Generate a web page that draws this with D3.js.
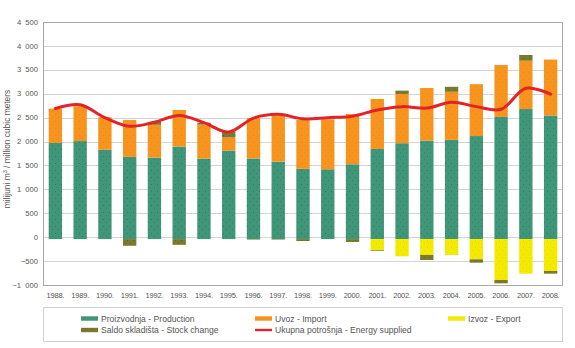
<!DOCTYPE html>
<html>
<head>
<meta charset="utf-8">
<script src="https://cdn.jsdelivr.net/npm/d3@7"></script>
<style>
  body { margin: 0; background: #fff; }
  svg text { font-family: "Liberation Sans", Arial, sans-serif; fill: #555; }
</style>
</head>
<body>
<svg id="chart"></svg>
<script>
// values, milijuni m3
var years = ['1988.', '1989.', '1990.', '1991.', '1992.', '1993.', '1994.', '1995.', '1996.', '1997.', '1998.',
             '1999.', '2000.', '2001.', '2002.', '2003.', '2004.', '2005.', '2006.', '2007.', '2008.']
var production = [1970, 2010, 1830, 1680, 1665, 1895, 1645, 1810, 1645, 1580, 1430, 1420, 1525, 1845, 1965, 2020, 2035, 2115, 2515, 2680, 2545]
var imports = [720, 730, 680, 770, 685, 765, 710, 275, 845, 965, 1020, 1045, 1050, 1045, 1030, 1100, 1005, 1085, 1085, 1010, 1170]
var exports = [0, 0, 0, 0, 0, 0, 0, 0, 0, 0, 0, 0, 0, -230, -360, -332, -332, -423, -855, -723, -667]
var stockChange = [0, 0, 0, -140, 60, -120, 40, 125, -10, -10, -40, 0, -60, -15, 70, -105, 105, -70, -70, 120, -56]
var supplied = [2690, 2770, 2500, 2320, 2405, 2545, 2395, 2200, 2490, 2570, 2475, 2500, 2530, 2660, 2730, 2700, 2820, 2730, 2675, 3115, 2990]
var yTicks = [-1000, -500, 0, 500, 1000, 1500, 2000, 2500, 3000, 3500, 4000, 4500]
var negBase = -40   // the bars in the original all start a little under zero

var W = 575, H = 348
var margin = {top: 22, right: 12, bottom: 63, left: 43}

var colors = {prod: '#3f9678', imp: '#f7941e', exp: '#f4ea00', stock: '#7b7a2c', line: '#e42328'}

var svg = d3.select('#chart').attr('width', W).attr('height', H)

// speckled fills like the original
var defs = svg.append('defs')
function pattern(id, base, dot) {
    var p = defs.append('pattern').attr('id', id).attr('patternUnits', 'userSpaceOnUse')
                .attr('width', 6).attr('height', 7)
    p.append('rect').attr('width', 6).attr('height', 7).attr('fill', base)
    p.append('rect').attr('x', 1).attr('y', 2).attr('width', 1).attr('height', 1).attr('fill', dot).attr('opacity', 0.5)
    p.append('rect').attr('x', 4).attr('y', 5).attr('width', 1).attr('height', 1).attr('fill', dot).attr('opacity', 0.35)
}
pattern('pProd', colors.prod, '#2a5a4a')
pattern('pImp', colors.imp, '#e07a10')
pattern('pExp', colors.exp, '#d8c400')
pattern('pStock', colors.stock, '#4a4a18')

var x = d3.scaleBand()
          .domain(years)
          .range([margin.left, W - margin.right])
          .paddingInner(0.46)
          .paddingOuter(0.23)

var y = d3.scaleLinear()
          .domain([-1000, 4500])
          .range([H - margin.bottom, margin.top])

// grid
svg.append('g')
   .selectAll('line')
   .data(yTicks)
   .join('line')
   .attr('x1', margin.left).attr('x2', W - margin.right)
   .attr('y1', d => Math.round(y(d)) + 0.5).attr('y2', d => Math.round(y(d)) + 0.5)
   .attr('stroke', d => d == 4500 ? '#a8a8a8' : '#d4d4d4')
   .attr('stroke-width', 1)

// plot frame left / right / bottom
svg.append('rect')
   .attr('x', margin.left + 0.5).attr('y', Math.round(y(4500)) + 0.5)
   .attr('width', W - margin.right - margin.left - 1)
   .attr('height', Math.round(y(-1000)) - Math.round(y(4500)))
   .attr('fill', 'none').attr('stroke', '#a8a8a8')

// y labels, thousands split by a figure space
svg.append('g')
   .selectAll('text')
   .data(yTicks)
   .join('text')
   .attr('x', margin.left - 5)
   .attr('y', d => y(d) + 2.6)
   .attr('text-anchor', 'end')
   .attr('font-size', '7.6px')
   .text(d => d3.format(',')(d).replace(',', '\u2007'))

// x labels
svg.append('g')
   .selectAll('text')
   .data(years)
   .join('text')
   .attr('x', d => x(d) + x.bandwidth() / 2)
   .attr('y', H - margin.bottom + 13)
   .attr('text-anchor', 'middle')
   .attr('font-size', '7.5px')
   .attr('letter-spacing', '-0.2px')
   .text(d => d)

// y title
svg.append('text')
   .attr('transform', `translate(10, 149) rotate(-90)`)
   .attr('text-anchor', 'middle')
   .attr('font-size', '8.4px')
   .attr('fill', '#444')
   .html('milijuni m<tspan baseline-shift="super" font-size="5.5px">3</tspan> / million cubic meters')

// stacked bars
var segs = []
years.forEach((yr, i) => {
    var top = production[i]
    segs.push({yr: yr, y0: negBase, y1: top, fill: 'url(#pProd)'})
    segs.push({yr: yr, y0: top, y1: top + imports[i], fill: 'url(#pImp)'})
    top += imports[i]
    var bottom = negBase
    if (exports[i] < 0) {
        segs.push({yr: yr, y0: bottom + exports[i], y1: bottom, fill: 'url(#pExp)'})
        bottom += exports[i]
    }
    if (stockChange[i] > 0) {
        segs.push({yr: yr, y0: top, y1: top + stockChange[i], fill: 'url(#pStock)'})
    } else if (stockChange[i] < 0) {
        segs.push({yr: yr, y0: bottom + stockChange[i], y1: bottom, fill: 'url(#pStock)'})
    }
})

svg.append('g')
   .selectAll('rect')
   .data(segs)
   .join('rect')
   .attr('x', d => x(d.yr))
   .attr('width', x.bandwidth())
   .attr('y', d => y(d.y1))
   .attr('height', d => y(d.y0) - y(d.y1))
   .attr('fill', d => d.fill)

// energy supplied line
var line = d3.line()
             .x((d, i) => x(years[i]) + x.bandwidth() / 2)
             .y(d => y(d))
             .curve(d3.curveCatmullRom)

svg.append('path')
   .datum(supplied)
   .attr('d', line)
   .attr('fill', 'none')
   .attr('stroke', colors.line)
   .attr('stroke-width', 3)
   .attr('stroke-linecap', 'round')

// legend
var legendTop = 307
svg.append('rect')
   .attr('x', margin.left + 0.5).attr('y', legendTop + 0.5)
   .attr('width', W - margin.right - margin.left - 1).attr('height', 34)
   .attr('fill', '#fff').attr('stroke', '#d0d0d0')

var legendItems = [
    {label: 'Proizvodnja - Production', fill: 'url(#pProd)', x: 81, row: 0},
    {label: 'Uvoz - Import', fill: 'url(#pImp)', x: 255, row: 0},
    {label: 'Izvoz - Export', fill: 'url(#pExp)', x: 448, row: 0},
    {label: 'Saldo skladišta - Stock change', fill: 'url(#pStock)', x: 81, row: 1},
    {label: 'Ukupna potrošnja - Energy supplied', line: true, x: 255, row: 1}
]

var lg = svg.append('g')
            .selectAll('g')
            .data(legendItems)
            .join('g')
            .attr('transform', d => `translate(${d.x}, ${legendTop + 11.5 + d.row * 11.5})`)

lg.append('rect')
  .attr('x', 0)
  .attr('y', d => d.line ? -1.2 : -2.2)
  .attr('width', 17)
  .attr('height', d => d.line ? 2.4 : 4.4)
  .attr('fill', d => d.line ? colors.line : d.fill)

lg.append('text')
  .attr('x', 20)
  .attr('y', 3)
  .attr('font-size', '8.6px')
  .text(d => d.label)
</script>
</body>
</html>
